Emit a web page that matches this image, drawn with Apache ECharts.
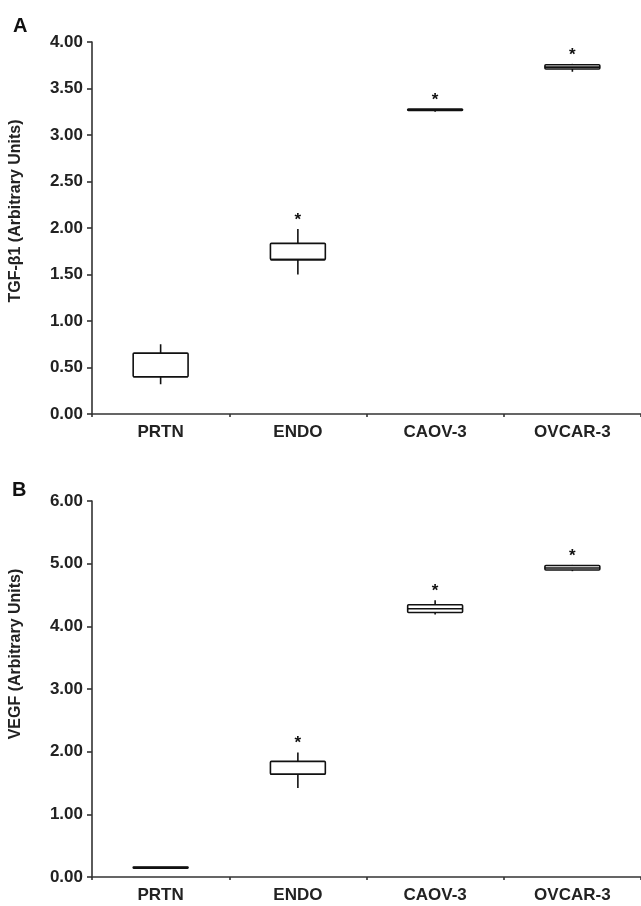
<!DOCTYPE html>
<html>
<head>
<meta charset="utf-8">
<script src="https://cdn.jsdelivr.net/npm/echarts@6/dist/echarts.min.js"></script>
<style>
  html, body { margin: 0; padding: 0; background: #fff; }
  #chart { width: 641px; height: 906px; }
</style>
</head>
<body>
<div id="chart"></div>
<script>
// categories
var categories = ['PRTN', 'ENDO', 'CAOV-3', 'OVCAR-3'];

// panel A: TGF-β1
var tgfLow    = [0.32, 1.50, 3.25, 3.68];
var tgfQ1     = [0.40, 1.66, 3.265, 3.71];
var tgfMedian = [0.40, 1.66, 3.27, 3.73];
var tgfQ3     = [0.655, 1.835, 3.28, 3.755];
var tgfHigh   = [0.75, 1.99, 3.28, 3.765];
var tgfSig    = [0, 1, 1, 1];

// panel B: VEGF
var vegfLow    = [0.14, 1.42, 4.19, 4.88];
var vegfQ1     = [0.14, 1.64, 4.22, 4.90];
var vegfMedian = [0.15, 1.64, 4.28, 4.93];
var vegfQ3     = [0.16, 1.845, 4.345, 4.97];
var vegfHigh   = [0.16, 1.985, 4.415, 4.98];
var vegfSig    = [0, 1, 1, 1];

var tgfTicks = { min: 0, max: 4, interval: 0.5 };
var vegfTicks = { min: 0, max: 6, interval: 1 };

var font = "'Liberation Sans', Arial, sans-serif";
var ink = '#222';

function buildRows(low, q1, med, q3, high, sig) {
  var rows = [];
  for (var i = 0; i < categories.length; i++) {
    rows.push([i, low[i], q1[i], med[i], q3[i], high[i], sig[i]]);
  }
  return rows;
}

// box with plain whiskers (no end caps) and an asterisk for significance
function renderBox(params, api) {
  var x = api.value(0);
  var lo = api.coord([x, api.value(1)]);
  var q1 = api.coord([x, api.value(2)]);
  var med = api.coord([x, api.value(3)]);
  var q3 = api.coord([x, api.value(4)]);
  var hi = api.coord([x, api.value(5)]);
  var half = api.size([1, 0])[0] * 0.2;
  var cx = lo[0];
  var line = { stroke: '#111', lineWidth: 1.6 };
  var kids = [
    { type: 'line', shape: { x1: cx, y1: hi[1], x2: cx, y2: q3[1] }, style: line },
    { type: 'line', shape: { x1: cx, y1: q1[1], x2: cx, y2: lo[1] }, style: line },
    {
      type: 'rect',
      shape: { x: cx - half, y: q3[1], width: half * 2, height: Math.max(q1[1] - q3[1], 1), r: 1 },
      style: { fill: '#fff', stroke: '#111', lineWidth: 1.6 }
    },
    { type: 'line', shape: { x1: cx - half, y1: med[1], x2: cx + half, y2: med[1] }, style: line }
  ];
  if (api.value(6)) {
    kids.push({
      type: 'text',
      style: {
        text: '*', x: cx, y: hi[1] - 9,
        textAlign: 'center', textVerticalAlign: 'middle',
        font: 'bold 17px ' + font, fill: '#111'
      }
    });
  }
  return { type: 'group', children: kids };
}

function xAxisFor(gridIndex) {
  return {
    type: 'category',
    gridIndex: gridIndex,
    data: categories,
    boundaryGap: true,
    axisLine: { lineStyle: { color: '#333', width: 1.6 } },
    axisTick: { show: true, length: 3, lineStyle: { color: '#333', width: 1.6 } },
    axisLabel: { color: ink, fontFamily: font, fontSize: 17, fontWeight: 'bold', margin: 10 },
    splitLine: { show: false }
  };
}

function yAxisFor(gridIndex, ticks, name, shift) {
  return {
    type: 'value',
    gridIndex: gridIndex,
    min: ticks.min,
    max: ticks.max,
    interval: ticks.interval,
    name: name,
    nameLocation: 'middle',
    nameGap: 68,
    nameTextStyle: { color: ink, fontFamily: font, fontSize: 16, fontWeight: 'bold', padding: [0, 0, 0, shift] },
    axisLine: { show: true, lineStyle: { color: '#333', width: 1.6 } },
    axisTick: { show: true, length: 5, lineStyle: { color: '#333', width: 1.6 } },
    axisLabel: {
      color: ink, fontFamily: font, fontSize: 17, fontWeight: 'bold', margin: 9,
      formatter: function (v) { return v.toFixed(2); }
    },
    splitLine: { show: false }
  };
}

var chart = echarts.init(document.getElementById('chart'), null, { renderer: 'canvas' });

var option = {
  backgroundColor: '#fff',
  animation: false,
  title: [
    { text: 'A', left: 8, top: 11, textStyle: { fontFamily: font, fontSize: 20, fontWeight: 'bold', color: '#111' } },
    { text: 'B', left: 7, top: 475, textStyle: { fontFamily: font, fontSize: 20, fontWeight: 'bold', color: '#111' } }
  ],
  grid: [
    { left: 92, top: 42, width: 552, height: 372 },
    { left: 91, top: 501, width: 551, height: 376 }
  ],
  xAxis: [xAxisFor(0), xAxisFor(1)],
  yAxis: [
    yAxisFor(0, tgfTicks, 'TGF-β1 (Arbitrary Units)', 34),
    yAxisFor(1, vegfTicks, 'VEGF (Arbitrary Units)', 70)
  ],
  series: [
    {
      type: 'custom',
      xAxisIndex: 0, yAxisIndex: 0,
      renderItem: renderBox,
      data: buildRows(tgfLow, tgfQ1, tgfMedian, tgfQ3, tgfHigh, tgfSig)
    },
    {
      type: 'custom',
      xAxisIndex: 1, yAxisIndex: 1,
      renderItem: renderBox,
      data: buildRows(vegfLow, vegfQ1, vegfMedian, vegfQ3, vegfHigh, vegfSig)
    }
  ]
};

chart.setOption(option);
</script>
</body>
</html>
